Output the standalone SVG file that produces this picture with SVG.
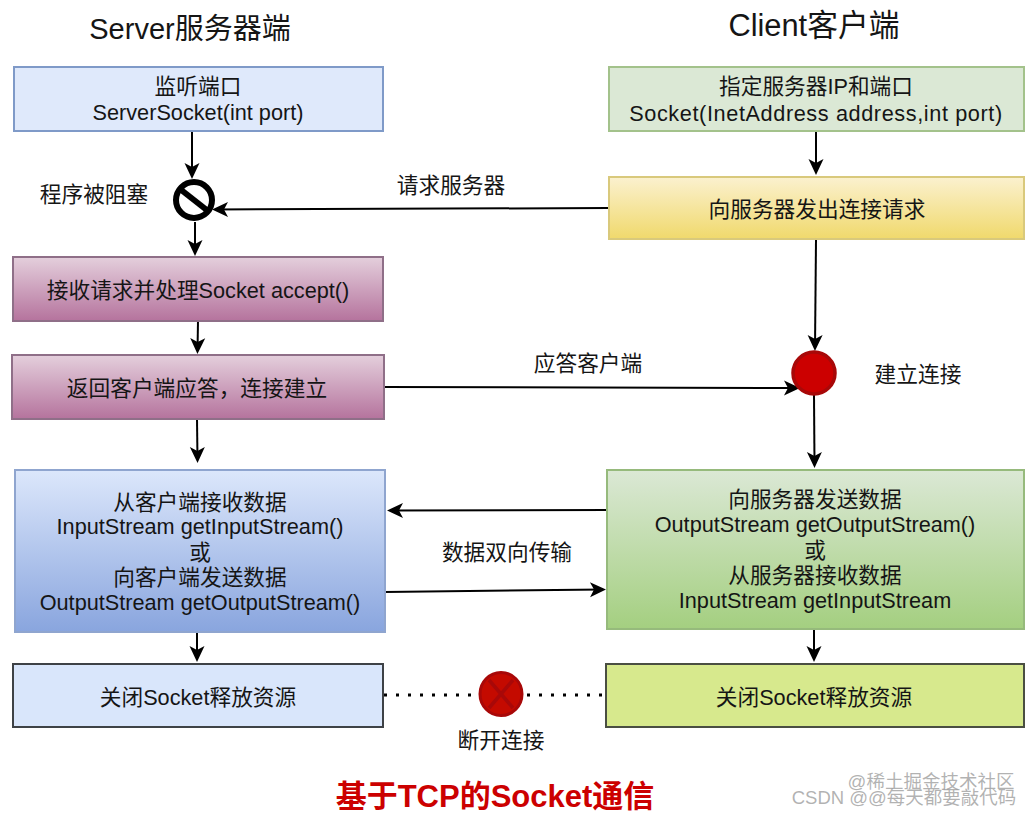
<svg xmlns="http://www.w3.org/2000/svg" width="1033" height="816" viewBox="0 0 1033 816">
<style>
text{font-family:"Liberation Sans","Noto Sans CJK SC",sans-serif;font-size:21.700px;fill:#151515;text-anchor:middle}
.h{font-size:29px}
.h2{font-size:30.800px}
.t{font-size:31px;font-weight:bold;fill:#cc0000}
.wm{font-size:18.500px;fill:#999;fill-opacity:.75}
.b{stroke-width:2}
.c{fill:none;stroke:#000;stroke-width:2;marker-end:url(#a)}
</style>
<defs>
<marker id="a" markerUnits="userSpaceOnUse" markerWidth="19" markerHeight="18" refX="14" refY="9" orient="auto"><path d="M1,1.500 L17,9 L1,16.500 L5,9 Z" fill="#000"/></marker>
<linearGradient id="gy" x1="0" y1="0" x2="0" y2="1"><stop offset="0" stop-color="#fbf1cf"/><stop offset="1" stop-color="#f0d96c"/></linearGradient>
<linearGradient id="gp" x1="0" y1="0" x2="0" y2="1"><stop offset="0" stop-color="#e4cfdc"/><stop offset="1" stop-color="#b5739d"/></linearGradient>
<linearGradient id="gb" x1="0" y1="0" x2="0" y2="1"><stop offset="0" stop-color="#dce7fb"/><stop offset="1" stop-color="#89a5de"/></linearGradient>
<linearGradient id="gg" x1="0" y1="0" x2="0" y2="1"><stop offset="0" stop-color="#dbe8d5"/><stop offset="1" stop-color="#a4cf80"/></linearGradient>
</defs>
<rect width="1033" height="816" fill="#fff"/>
<g id="connectors">
<path class="c" d="M192,131V176"/>
<path class="c" d="M195,222V253"/>
<path class="c" d="M198,321L197.500,351"/>
<path class="c" d="M197,419L197.500,460"/>
<path class="c" d="M197,633L197,659"/>
<path class="c" d="M816,131V172"/>
<path class="c" d="M608,208L215,209.500"/>
<path class="c" d="M816,240L815,348"/>
<path class="c" d="M383,387L797,388"/>
<path class="c" d="M814,395L814.500,465"/>
<path class="c" d="M607,510L390,510.500"/>
<path class="c" d="M385,592L603,589.500"/>
<path class="c" d="M814,629V659"/>
<path d="M384,695H479M527,695H606" fill="none" stroke="#000" stroke-width="3" stroke-dasharray="3 9"/>
</g>
<g id="title-server"><text class="h" x="190" y="39">Server服务器端</text></g>
<g id="title-client"><text class="h2" x="814" y="36">Client客户端</text></g>
<g id="n1"><rect class="b" x="14" y="67" width="369" height="64" fill="#dfe9fb" stroke="#7f9ac8"/><text x="198" y="94">监听端口</text><text x="198" y="120">ServerSocket(int port)</text></g>
<g id="n2"><rect class="b" x="609" y="67" width="415" height="64" fill="#dbe8d5" stroke="#a3c28b"/><text x="816" y="94">指定服务器IP和端口</text><text x="816" y="121" letter-spacing=".6">Socket(InetAddress address,int port)</text></g>
<g id="block"><circle cx="194" cy="200" r="18" fill="#fff" stroke="#000" stroke-width="6"/><path d="M180,189L208,211" stroke="#000" stroke-width="6"/></g>
<g id="l-block"><text x="94" y="202">程序被阻塞</text></g>
<g id="n3"><rect class="b" x="609" y="177" width="415" height="62" fill="url(#gy)" stroke="#d9c97c"/><text x="817" y="217">向服务器发出连接请求</text></g>
<g id="l-req"><text x="451" y="193">请求服务器</text></g>
<g id="n4"><rect class="b" x="13" y="257" width="370" height="64" fill="url(#gp)" stroke="#8f6f88"/><text x="198" y="298">接收请求并处理Socket accept()</text></g>
<g id="n5"><rect class="b" x="12" y="355" width="372" height="64" fill="url(#gp)" stroke="#8f6f88"/><text x="197" y="396">返回客户端应答，连接建立</text></g>
<g id="l-resp"><text x="588" y="371">应答客户端</text></g>
<g id="connect"><circle cx="814" cy="373" r="21" fill="#cc0000" stroke="#a80808" stroke-width="3.500"/></g>
<g id="l-connect"><text x="918" y="382">建立连接</text></g>
<g id="n6"><rect class="b" x="15" y="470" width="370" height="162" fill="url(#gb)" stroke="#8fa5cf"/>
<text x="200" y="510">从客户端接收数据</text><text x="200" y="534">InputStream getInputStream()</text><text x="200" y="560">或</text><text x="200" y="585">向客户端发送数据</text><text x="200" y="610">OutputStream getOutputStream()</text></g>
<g id="n7"><rect class="b" x="607" y="470" width="417" height="159" fill="url(#gg)" stroke="#96ba7c"/>
<text x="815" y="507">向服务器发送数据</text><text x="815" y="532">OutputStream getOutputStream()</text><text x="815" y="558">或</text><text x="815" y="583">从服务器接收数据</text><text x="815" y="608">InputStream getInputStream</text></g>
<g id="l-data"><text x="507" y="560">数据双向传输</text></g>
<g id="n8"><rect class="b" x="13" y="664" width="370" height="63" fill="#d9e6fb" stroke="#3e4246"/><text x="198" y="705">关闭Socket释放资源</text></g>
<g id="n9"><rect class="b" x="606" y="664" width="418" height="63" fill="#d7e98d" stroke="#4a4f42"/><text x="814" y="705">关闭Socket释放资源</text></g>
<g id="disconnect"><ellipse cx="501" cy="694" rx="21" ry="21.500" fill="#c40a00" stroke="#a80808" stroke-width="3"/><path d="M489,680L513,708M513,680L489,708" stroke="#a80808" stroke-width="3.500"/></g>
<g id="l-dis"><text x="501" y="748">断开连接</text></g>
<g id="title"><text class="t" x="495" y="807">基于TCP的Socket通信</text></g>
<g id="watermark"><text class="wm" x="931" y="788">@稀土掘金技术社区</text><text class="wm" x="904" y="804">CSDN @@每天都要敲代码</text></g>
</svg>
